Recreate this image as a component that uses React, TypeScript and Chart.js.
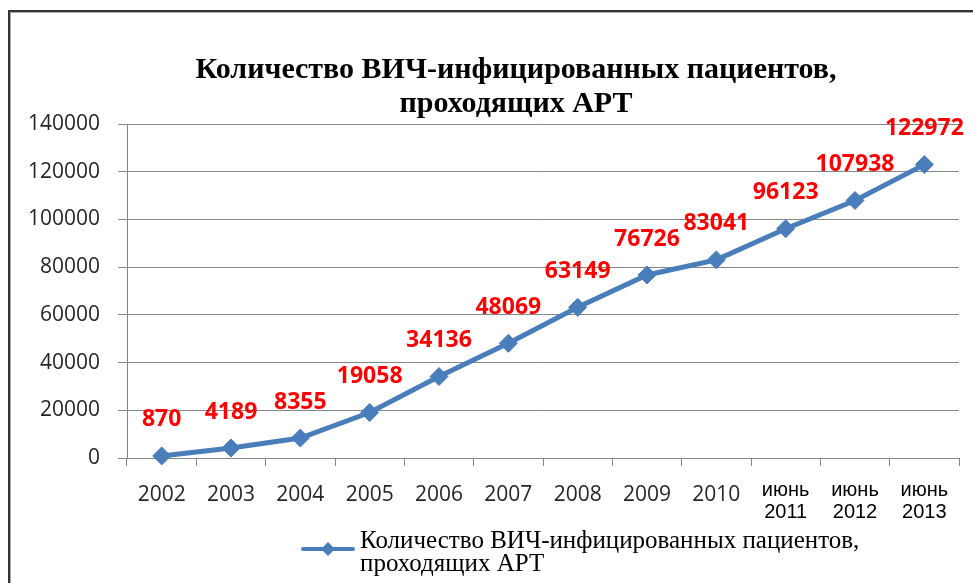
import React, { useEffect, useRef } from "react";
import { Chart, registerables } from "chart.js";

Chart.register(...registerables);

const categories: (string | string[])[] = [
  "2002", "2003", "2004", "2005", "2006", "2007", "2008", "2009", "2010",
  ["июнь", "2011"], ["июнь", "2012"], ["июнь", "2013"],
];
const patients = [870, 4189, 8355, 19058, 34136, 48069, 63149, 76726, 83041, 96123, 107938, 122972];
const valueLabels = patients.map((v) => String(v));
const titleLines = ["Количество ВИЧ-инфицированных пациентов,", "проходящих АРТ"];
const legendLines = ["Количество ВИЧ-инфицированных пациентов,", "проходящих АРТ"];
const yMin = 0;
const yMax = 140000;
const yStep = 20000;

const LINE_COLOR = "#4A7EBB";
const CANVAS_W = 1032;
const CANVAS_H = 583;

const valueLabelPlugin = {
  id: "valueLabels",
  afterDatasetsDraw(chart: any) {
    const ctx = chart.ctx;
    const meta = chart.getDatasetMeta(0);
    ctx.save();
    ctx.font = "bold 23px 'Open Sans', sans-serif";
    ctx.fillStyle = "#FF0000";
    ctx.textAlign = "center";
    ctx.textBaseline = "middle";
    meta.data.forEach((pt: any, i: number) => {
      ctx.fillText(valueLabels[i], pt.x, pt.y - 36);
    });
    ctx.restore();
  },
};

const legendPlugin = {
  id: "customLegend",
  afterDraw(chart: any) {
    const ctx = chart.ctx;
    const ca = chart.chartArea;
    const lineY = ca.bottom + 91;
    const x0 = 303;
    const x1 = 353;
    ctx.save();
    ctx.strokeStyle = LINE_COLOR;
    ctx.lineWidth = 4;
    ctx.lineCap = "round";
    ctx.beginPath();
    ctx.moveTo(x0, lineY);
    ctx.lineTo(x1, lineY);
    ctx.stroke();
    const cx = (x0 + x1) / 2;
    const r = 7;
    ctx.fillStyle = LINE_COLOR;
    ctx.beginPath();
    ctx.moveTo(cx - r, lineY);
    ctx.lineTo(cx, lineY - r);
    ctx.lineTo(cx + r, lineY);
    ctx.lineTo(cx, lineY + r);
    ctx.closePath();
    ctx.fill();
    ctx.fillStyle = "#000";
    ctx.font = "25px 'Liberation Serif', serif";
    ctx.textAlign = "left";
    ctx.textBaseline = "middle";
    legendLines.forEach((t, i) => {
      ctx.fillText(t, x1 + 7, lineY - 8 + i * 23);
    });
    ctx.restore();
  },
};

export default function App() {
  const ref = useRef<HTMLCanvasElement>(null);

  useEffect(() => {
    if (!ref.current) return;
    const chart = new Chart(ref.current, {
      type: "line",
      data: {
        labels: categories as any,
        datasets: [
          {
            label: legendLines.join(" "),
            data: patients,
            borderColor: LINE_COLOR,
            backgroundColor: LINE_COLOR,
            borderWidth: 5,
            pointStyle: "rectRot",
            pointRadius: 9,
            pointBackgroundColor: LINE_COLOR,
            pointBorderColor: LINE_COLOR,
            pointBorderWidth: 1,
            tension: 0,
            clip: false as any,
          },
        ],
      },
      options: {
        responsive: false,
        animation: false,
        layout: { padding: 0 },
        plugins: {
          legend: { display: false },
          tooltip: { enabled: false },
          title: {
            display: true,
            text: titleLines,
            color: "#000",
            font: { family: "'Liberation Serif', serif", size: 30, weight: "bold", lineHeight: 34 / 30 },
            padding: { top: 53, bottom: 3 },
          },
        },
        scales: {
          x: {
            offset: true,
            grid: { offset: true, drawOnChartArea: false, color: "#868686", tickLength: 8 },
            border: { color: "#868686" },
            ticks: {
              autoSkip: false,
              maxRotation: 0,
              padding: 13,
              font: (c: any) =>
                c.index >= 9
                  ? { family: "'Liberation Sans', Arial, sans-serif", size: 20, lineHeight: 1.1 }
                  : { family: "'Open Sans', sans-serif", size: 21, lineHeight: 1.52 },
              color: (c: any) => (c.index >= 9 ? "#000" : "#262626"),
            },
            afterFit: (s: any) => {
              s.height = 125;
            },
          },
          y: {
            min: yMin,
            max: yMax,
            ticks: {
              stepSize: yStep,
              padding: 18,
              font: { family: "'Open Sans', sans-serif", size: 21 },
              color: "#262626",
              callback: (v: any) => String(v),
            },
            grid: { color: "#868686", tickLength: 9 },
            border: { color: "#868686" },
            afterFit: (s: any) => {
              s.width = 127;
            },
          },
          yR: {
            position: "right",
            grid: { display: false },
            ticks: { display: false },
            border: { display: false },
            afterFit: (s: any) => {
              s.width = 73;
            },
          },
        },
      },
      plugins: [valueLabelPlugin, legendPlugin],
    });
    return () => chart.destroy();
  }, []);

  return (
    <div
      style={{
        position: "fixed",
        left: 0,
        top: 0,
        width: 973,
        height: 583,
        overflow: "hidden",
        background: "#fff",
      }}
    >
      <div
        style={{
          position: "absolute",
          left: 8,
          top: 10,
          width: 1100,
          height: 700,
          border: "2px solid #333",
          boxShadow: "inset 1px 1px 0 #aaa",
        }}
      />
      <canvas
        ref={ref}
        width={CANVAS_W}
        height={CANVAS_H}
        style={{ position: "absolute", left: 0, top: 0 }}
      />
    </div>
  );
}
